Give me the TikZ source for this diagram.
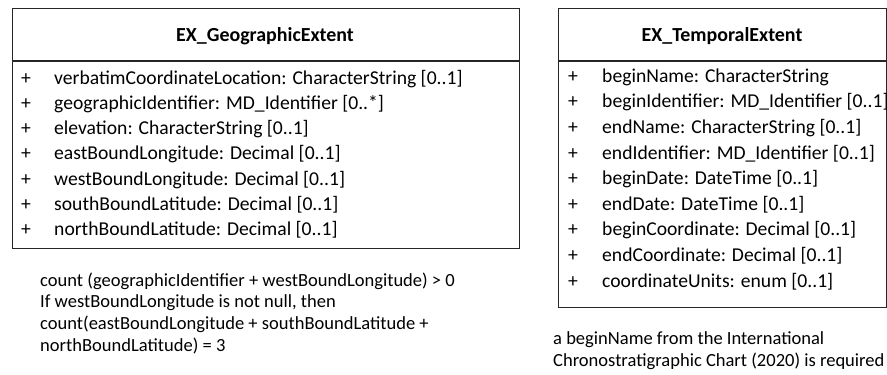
\documentclass[tikz,border=0pt]{standalone}
\usepackage{fontspec}
\setmainfont{Carlito}
\begin{document}
\begin{tikzpicture}[x=1bp,y=-1bp,
  classbox/.style={draw=black!85,line width=1.3bp,inner sep=0pt,anchor=north west},
  hdr/.style={font=\fontsize{20}{24}\selectfont\bfseries,anchor=center,inner sep=0pt},
  attr/.style={font=\fontsize{19.7}{24}\selectfont,anchor=mid west,inner sep=0pt},
  note/.style={font=\fontsize{18.6}{21.6}\selectfont,anchor=base west,inner sep=0pt,align=left}]
\useasboundingbox (0,0) rectangle (887,374);
% left class
\node[classbox,minimum width=507bp,minimum height=240bp] (geo) at (12,8) {};
\draw[line width=1.3bp,draw=black!85] (geo.west |- 0,61) -- (geo.east |- 0,61);
\node[hdr] (geoname) at (265,36) {EX\_GeographicExtent};
\foreach \i/\t in {0/{verbatimCoordinateLocation: CharacterString [0..1]},
  1/{geographicIdentifier: MD\_Identifier [0..*]},
  2/{elevation: CharacterString [0..1]},
  3/{eastBoundLongitude: Decimal [0..1]},
  4/{westBoundLongitude: Decimal [0..1]},
  5/{southBoundLatitude: Decimal [0..1]},
  6/{northBoundLatitude: Decimal [0..1]}}{
  \node[attr] (gp\i) at (21,82+25.2*\i) {+};
  \node[attr] (ga\i) at (54,82+25.2*\i) {\t};
}
\node[note] (geonote) at (40,351) {count (geographicIdentifier + westBoundLongitude) > 0\\
If westBoundLongitude is not null, then\\
count(eastBoundLongitude + southBoundLatitude +\\
northBoundLatitude) = 3};
% right class
\node[classbox,minimum width=327.5bp,minimum height=299bp] (tmp) at (558,8) {};
\draw[line width=1.3bp,draw=black!85] (tmp.west |- 0,61) -- (tmp.east |- 0,61);
\node[hdr] (tmpname) at (722,36) {EX\_TemporalExtent};
\foreach \i/\t in {0/{beginName: CharacterString},
  1/{beginIdentifier: MD\_Identifier [0..1]},
  2/{endName: CharacterString [0..1]},
  3/{endIdentifier: MD\_Identifier [0..1]},
  4/{beginDate: DateTime [0..1]},
  5/{endDate: DateTime [0..1]},
  6/{beginCoordinate: Decimal [0..1]},
  7/{endCoordinate: Decimal [0..1]},
  8/{coordinateUnits: enum [0..1]}}{
  \node[attr] (tp\i) at (568,80+25.6*\i) {+};
  \node[attr] (ta\i) at (602,80+25.6*\i) {\t};
}
\node[note] (tmpnote) at (553,366) {a beginName from the International\\
Chronostratigraphic Chart (2020) is required};
\end{tikzpicture}
\end{document}
